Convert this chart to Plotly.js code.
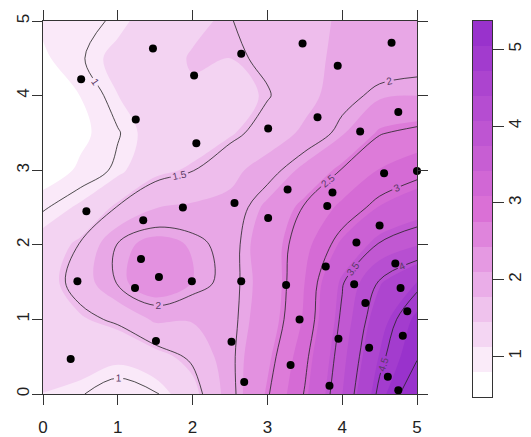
<!DOCTYPE html>
<html><head><meta charset="utf-8">
<script src="https://cdn.plot.ly/plotly-3.0.1.min.js"></script>
<style>
body { margin: 0; background: #fff; }
#chart { width: 531px; height: 437px; }
</style></head><body>
<div id="chart"></div>
<script>
// interpolated surface on a 0.5 grid
const gridX = [0, 0.5, 1, 1.5, 2, 2.5, 3, 3.5, 4, 4.5, 5];
const gridY = [0, 0.5, 1, 1.5, 2, 2.5, 3, 3.5, 4, 4.5, 5];
const zRows = [
    [1.12, 1.02, 0.85, 0.96, 1.35, 1.91, 2.47, 3.02, 3.73, 4.58, 5.35],
    [1.22, 1.30, 1.20, 1.35, 1.55, 1.94, 2.37, 2.93, 3.65, 4.41, 4.96],
    [1.30, 1.42, 1.55, 1.82, 1.80, 1.93, 2.26, 2.80, 3.56, 4.25, 4.80],
    [1.32, 1.62, 2.03, 2.30, 2.10, 1.92, 2.22, 2.76, 3.47, 4.03, 4.39],
    [1.25, 1.52, 2.02, 2.20, 2.08, 1.90, 2.27, 2.67, 3.14, 3.53, 3.72],
    [0.97, 1.17, 1.52, 1.77, 1.82, 1.85, 2.16, 2.53, 2.82, 3.10, 3.26],
    [0.60, 0.85, 1.05, 1.38, 1.49, 1.70, 1.90, 2.17, 2.52, 2.77, 2.91],
    [0.47, 0.72, 0.98, 1.25, 1.30, 1.42, 1.62, 1.83, 2.07, 2.48, 2.58],
    [0.60, 0.80, 1.12, 1.30, 1.42, 1.35, 1.48, 1.68, 1.92, 2.06, 2.10],
    [0.75, 0.97, 1.22, 1.35, 1.47, 1.45, 1.55, 1.68, 1.85, 1.87, 1.90],
    [0.85, 0.92, 1.04, 1.30, 1.40, 1.49, 1.60, 1.72, 1.80, 1.82, 1.80]
];

// sample sites (black dots)
const siteX = [1.47, 2.65, 0.51, 2.02, 1.24, 2.05, 3.01, 0.58, 1.87, 2.56,
               1.34, 3.01, 3.47, 4.66, 3.94, 3.67, 4.75, 4.24, 4.56, 5.00,
               3.27, 3.87, 3.80, 1.31, 1.55, 1.99, 1.23, 0.46, 2.65, 1.51,
               2.52, 0.37, 2.69, 3.25, 3.78, 3.43, 3.31, 3.83, 3.95, 4.50,
               4.19, 4.71, 4.16, 4.78, 4.31, 4.87, 4.81, 4.36, 4.61, 4.75];
const siteY = [4.63, 4.56, 4.22, 4.27, 3.68, 3.36, 3.56, 2.45, 2.50, 2.56,
               2.33, 2.36, 4.70, 4.71, 4.40, 3.71, 3.78, 3.52, 2.96, 2.99,
               2.74, 2.70, 2.52, 1.81, 1.57, 1.51, 1.42, 1.51, 1.51, 0.71,
               0.70, 0.47, 0.16, 1.46, 1.71, 1.00, 0.39, 0.11, 0.74, 2.26,
               2.03, 1.75, 1.47, 1.42, 1.22, 1.11, 0.78, 0.62, 0.23, 0.05];

// 15 colour bands white -> orchid -> darkorchid
const bandColors = ['#ffffff', '#faebf9', '#f4d6f3', '#efc2ed', '#eaade8',
                    '#e599e2', '#df84dc', '#da70d6', '#d167d5', '#c75ed3',
                    '#be55d2', '#b54dd1', '#ac44cf', '#a23bce', '#9932cc'];
const zLow = 0.47, zHigh = 5.37;
const lineLevels = [1, 5, 0.5];
const axisTicks = [0, 1, 2, 3, 4, 5];
const barTicks = [1, 2, 3, 4, 5];

const nBands = bandColors.length;
const bandSize = (zHigh - zLow) / nBands;
const colorscale = bandColors.map((c, i) => [i / (nBands - 1), c]);
const bandIndex = bandColors.map((c, i) => [i]);
const bandMid = bandColors.map((c, i) => zLow + (i + 0.5) * bandSize);
const font = 'Liberation Sans, Arial, sans-serif';

const fill = {
    type: 'contour', x: gridX, y: gridY, z: zRows,
    autocontour: false,
    contours: {
        coloring: 'fill', showlines: false,
        start: zLow + bandSize,
        end: zLow + (nBands - 2) * bandSize + bandSize / 1000,
        size: bandSize
    },
    line: { width: 0, smoothing: 1 },
    colorscale: colorscale,
    showscale: false,
    hoverinfo: 'skip'
};

const lines = {
    type: 'contour', x: gridX, y: gridY, z: zRows,
    autocontour: false,
    contours: {
        coloring: 'none', showlabels: true,
        start: lineLevels[0], end: lineLevels[1], size: lineLevels[2],
        labelfont: { family: font, size: 10, color: '#5a3a66' }
    },
    line: { color: '#222', width: 0.8, smoothing: 1 },
    showscale: false,
    hoverinfo: 'skip'
};

const sites = {
    type: 'scatter', mode: 'markers', x: siteX, y: siteY,
    marker: { color: '#000', size: 8 },
    hoverinfo: 'skip', cliponaxis: false
};

// colour key drawn as a one-column heatmap on its own axes
const key = {
    type: 'heatmap', x: [0], y: bandMid, z: bandIndex,
    zmin: 0, zmax: nBands - 1, colorscale: colorscale,
    showscale: false, hoverinfo: 'skip',
    xaxis: 'x2', yaxis: 'y2'
};

const tickfont = { family: font, size: 17, color: '#222' };
const axis = {
    range: [0, 5], tickmode: 'array', tickvals: axisTicks,
    ticks: 'outside', ticklen: 10, tickcolor: '#333',
    showline: true, linecolor: '#333', linewidth: 1, mirror: 'ticks',
    showgrid: false, zeroline: false, tickfont: tickfont
};

Plotly.newPlot('chart', [fill, lines, sites, key], {
    width: 531, height: 437,
    margin: { l: 43, r: 10, t: 21, b: 40 },
    paper_bgcolor: '#fff', plot_bgcolor: '#fff',
    showlegend: false,
    xaxis: Object.assign({}, axis, { domain: [0, 374 / 478], ticklabelstandoff: 8 }),
    yaxis: Object.assign({}, axis, { domain: [3 / 376, 1], tickangle: -90, ticklabelstandoff: -4 }),
    xaxis2: {
        domain: [430 / 478, 449 / 478], anchor: 'y2', range: [-0.5, 0.5],
        showticklabels: false, ticks: '', showgrid: false, zeroline: false,
        showline: true, linecolor: '#333', linewidth: 1, mirror: true
    },
    yaxis2: {
        domain: [0, 1], anchor: 'x2', side: 'right', range: [zLow, zHigh],
        tickmode: 'array', tickvals: barTicks,
        ticks: 'outside', ticklen: 11, tickcolor: '#333',
        tickangle: -90, ticklabelstandoff: -3, tickfont: tickfont,
        showgrid: false, zeroline: false,
        showline: true, linecolor: '#333', linewidth: 1, mirror: true
    }
}, { staticPlot: true });
</script>
</body></html>
